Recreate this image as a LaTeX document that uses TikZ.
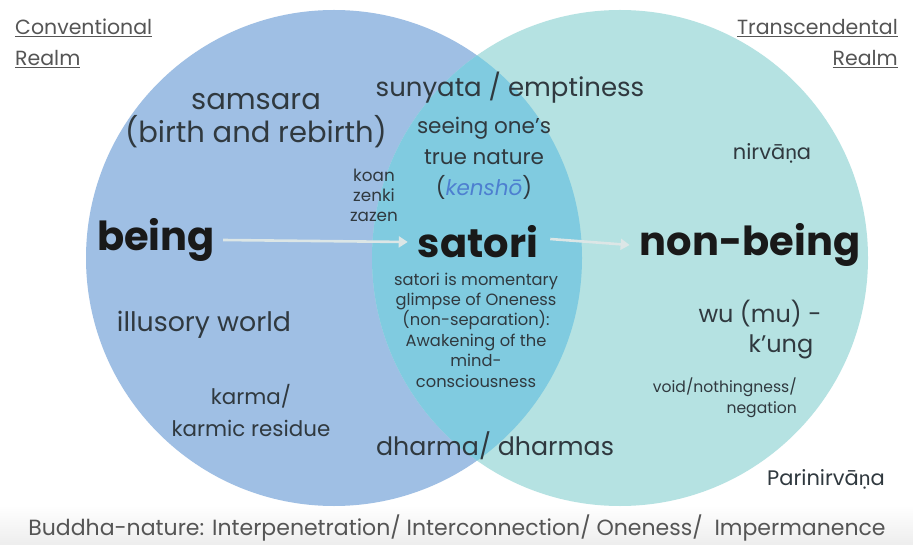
\documentclass[tikz,border=0pt]{standalone}
\usepackage{fontspec}
\setmainfont{Poppins}
% Poppins has no n with dot below; Lato supplies that one letter
\newfontfamily\latofont{Lato}
\newcommand{\ndot}{{\latofont ṇ}}
\usetikzlibrary{arrows.meta}
\definecolor{convblue}{HTML}{9FBFE4}
\definecolor{transteal}{HTML}{B5E2E2}
\definecolor{lensblue}{HTML}{80CBE0}
\definecolor{inktext}{HTML}{30393F}
\definecolor{labelgray}{HTML}{555555}
\definecolor{arrowpale}{HTML}{DCE6E6}
\definecolor{kenshoblue}{HTML}{4D7FD0}
\begin{document}
\begin{tikzpicture}[x=1pt,y=-1pt,
  txt/.style 2 args={text=inktext,font=\fontsize{#1}{#2}\selectfont,inner sep=0pt,align=center},
  big/.style={text=black!90,font=\fontsize{40}{40}\selectfont\bfseries,inner sep=0pt},
  realm/.style={text=labelgray,font=\fontsize{20.5}{31}\selectfont,inner sep=0pt},
  flow/.style={draw=arrowpale,line width=2.6pt,-{Triangle[length=9pt,width=11pt]}}]
% canvas
\fill[white] (0,0) rectangle (913,545);
\useasboundingbox (0,0) rectangle (913,545);
\shade[top color=white,bottom color=gray!14] (0,505) rectangle (913,545);

% the two realms and their overlap
\coordinate (L) at (334,258);
\coordinate (R) at (620,258);
\fill[convblue] (L) circle[radius=248pt];
\fill[transteal] (R) circle[radius=248pt];
\begin{scope}
  \clip (L) circle[radius=248pt];
  \fill[lensblue] (R) circle[radius=248pt];
\end{scope}

% realm headings
\node[realm,anchor=north west,align=left] (conv) at (15,19) {\underline{Conventional}\\\underline{Realm}};
\node[realm,anchor=north east,align=right] (trans) at (898,19) {\underline{Transcendental}\\\underline{Realm}};

% main terms
\node[big] (being) at (156,240) {being};
\node[big] (satori) at (478,242) {satori};
\node[big] (nonbeing) at (750,245) {non-being};
\draw[flow] ([xshift=8pt]being.east) -- ([xshift=-10pt]satori.west);
\draw[flow] ([xshift=12pt,yshift=3pt]satori.east) -- ([xshift=-10pt]nonbeing.west);

% conventional side
\node[txt={29}{33}] (samsara) at (256,121) {samsara\\(birth and rebirth)};
\node[txt={16.8}{20}] (koan) at (374,195) {koan\\zenki\\zazen};
\node[txt={26.8}{30}] (illusory) at (204,325) {illusory world};
\node[txt={21.4}{32}] (karma) at (251,411) {karma/\\karmic residue};

% overlap
\node[txt={26}{30}] (sunyata) at (510,88) {sunyata / emptiness};
\node[txt={21.5}{31}] (seeing) at (484,158) {seeing one's\\true nature\\(\textcolor{kenshoblue}{\itshape kenshō})};
\node[txt={16.3}{20.4}] (glimpse) at (476,330) {satori is momentary\\glimpse of Oneness\\(non-separation):\\Awakening of the\\mind-\\consciousness};
\node[txt={25.3}{30}] (dharma) at (495,446) {dharma/ dharmas};

% transcendental side
\node[txt={21}{25}] (nirvana) at (772,153) {nirvā\ndot a};
\node[txt={24}{28}] (wu) at (760,314) {wu (mu) -};
\node[txt={24}{28}] (kung) at (781,347) {k’ung};
\node[txt={15.6}{21}, align=right, anchor=east] (void) at (797,398) {void/nothingness/\\negation};
\node[txt={21}{25}] (pari) at (826,479) {Parinirvā\ndot a};

% ground of both realms
\node[text=labelgray,font=\fontsize{22}{22}\selectfont,inner sep=0pt] (buddha) at (457,528) {Buddha-nature: Interpenetration/ Interconnection/ Oneness/ \ Impermanence};
\end{tikzpicture}
\end{document}
